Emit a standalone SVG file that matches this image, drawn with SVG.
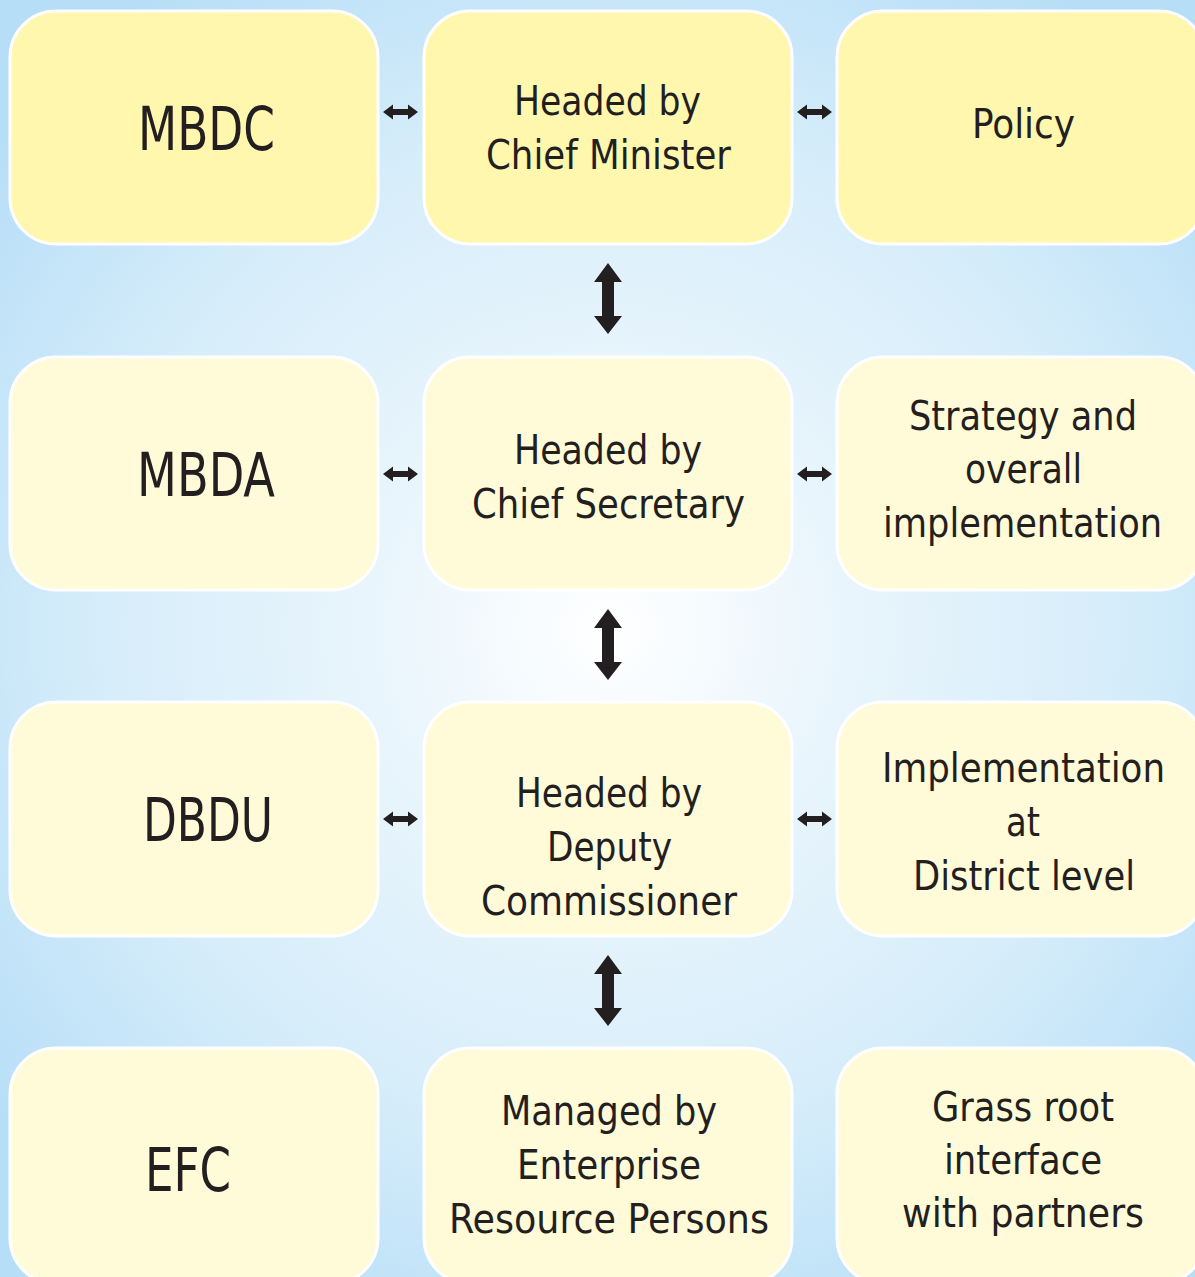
<svg xmlns="http://www.w3.org/2000/svg" width="1195" height="1277" viewBox="0 0 1195 1277">
<defs>
<radialGradient id="bg" gradientUnits="userSpaceOnUse" cx="608" cy="630" r="780">
<stop offset="0" stop-color="#ffffff"/>
<stop offset="0.3" stop-color="#e9f5fc"/>
<stop offset="0.65" stop-color="#d6edfa"/>
<stop offset="1" stop-color="#b7def7"/>
</radialGradient>
<path id="ha" d="M0 0 L10 -7.5 L10 -3 L25 -3 L25 -7.5 L35 0 L25 7.5 L25 3 L10 3 L10 7.5 Z"/>
<path id="va" d="M0 0 L14 19 L6 19 L6 53 L14 53 L0 71 L-14 53 L-6 53 L-6 19 L-14 19 Z"/>
</defs>
<style>
.box1{fill:#fff7ae;stroke:#ffffff;stroke-width:3}
.box{fill:#fffad7;stroke:#ffffff;stroke-width:3}
.big{font-family:"DejaVu Sans Condensed","DejaVu Sans",sans-serif;font-size:60px;fill:#231f20}
.t{font-family:"DejaVu Sans Condensed","DejaVu Sans",sans-serif;font-size:40px;fill:#231f20}
.arr{fill:#231f20}
</style>
<rect width="1195" height="1277" fill="url(#bg)"/>

<g id="mbdc"><rect class="box1" x="10" y="11" width="368" height="233" rx="46"/><text class="big" x="138" y="150" textLength="137" lengthAdjust="spacingAndGlyphs">MBDC</text></g>
<g id="cm"><rect class="box1" x="424" y="11" width="368" height="233" rx="46"/><text class="t" x="514" y="115" textLength="187" lengthAdjust="spacingAndGlyphs">Headed by</text><text class="t" x="486" y="169" textLength="245" lengthAdjust="spacingAndGlyphs">Chief Minister</text></g>
<g id="policy"><rect class="box1" x="837" y="11" width="368" height="233" rx="46"/><text class="t" x="972" y="138" textLength="103" lengthAdjust="spacingAndGlyphs">Policy</text></g>

<g id="mbda"><rect class="box" x="10" y="357" width="368" height="233" rx="46"/><text class="big" x="137" y="496" textLength="138" lengthAdjust="spacingAndGlyphs">MBDA</text></g>
<g id="cs"><rect class="box" x="424" y="357" width="368" height="233" rx="46"/><text class="t" x="514" y="464" textLength="188" lengthAdjust="spacingAndGlyphs">Headed by</text><text class="t" x="472" y="518" textLength="273" lengthAdjust="spacingAndGlyphs">Chief Secretary</text></g>
<g id="strategy"><rect class="box" x="837" y="357" width="368" height="233" rx="46"/><text class="t" x="909" y="430" textLength="228" lengthAdjust="spacingAndGlyphs">Strategy and</text><text class="t" x="965" y="483" textLength="117" lengthAdjust="spacingAndGlyphs">overall</text><text class="t" x="883" y="537" textLength="279" lengthAdjust="spacingAndGlyphs">implementation</text></g>

<g id="dbdu"><rect class="box" x="10" y="702" width="368" height="234" rx="46"/><text class="big" x="143" y="841" textLength="130" lengthAdjust="spacingAndGlyphs">DBDU</text></g>
<g id="dc"><rect class="box" x="424" y="702" width="368" height="234" rx="46"/><text class="t" x="516" y="807" textLength="186" lengthAdjust="spacingAndGlyphs">Headed by</text><text class="t" x="547" y="861" textLength="125" lengthAdjust="spacingAndGlyphs">Deputy</text><text class="t" x="481" y="915" textLength="256" lengthAdjust="spacingAndGlyphs">Commissioner</text></g>
<g id="district"><rect class="box" x="837" y="702" width="368" height="234" rx="46"/><text class="t" x="882" y="782" textLength="283" lengthAdjust="spacingAndGlyphs">Implementation</text><text class="t" x="1006" y="836" textLength="34" lengthAdjust="spacingAndGlyphs">at</text><text class="t" x="913" y="890" textLength="222" lengthAdjust="spacingAndGlyphs">District level</text></g>

<g id="efc"><rect class="box" x="10" y="1048" width="368" height="236" rx="46"/><text class="big" x="145" y="1191" textLength="86" lengthAdjust="spacingAndGlyphs">EFC</text></g>
<g id="erp"><rect class="box" x="424" y="1048" width="368" height="236" rx="46"/><text class="t" x="501" y="1125" textLength="216" lengthAdjust="spacingAndGlyphs">Managed by</text><text class="t" x="517" y="1179" textLength="184" lengthAdjust="spacingAndGlyphs">Enterprise</text><text class="t" x="449" y="1233" textLength="320" lengthAdjust="spacingAndGlyphs">Resource Persons</text></g>
<g id="grass"><rect class="box" x="837" y="1048" width="368" height="236" rx="46"/><text class="t" x="932" y="1121" textLength="182" lengthAdjust="spacingAndGlyphs">Grass root</text><text class="t" x="944" y="1174" textLength="158" lengthAdjust="spacingAndGlyphs">interface</text><text class="t" x="902" y="1227" textLength="242" lengthAdjust="spacingAndGlyphs">with partners</text></g>

<g id="connectors" class="arr">
<use href="#ha" x="383" y="112"/>
<use href="#ha" x="797" y="112"/>
<use href="#ha" x="383" y="474"/>
<use href="#ha" x="797" y="474"/>
<use href="#ha" x="383" y="819"/>
<use href="#ha" x="797" y="819"/>
<use href="#va" x="608" y="263"/>
<use href="#va" x="608" y="609"/>
<use href="#va" x="608" y="955"/>
</g>
</svg>
